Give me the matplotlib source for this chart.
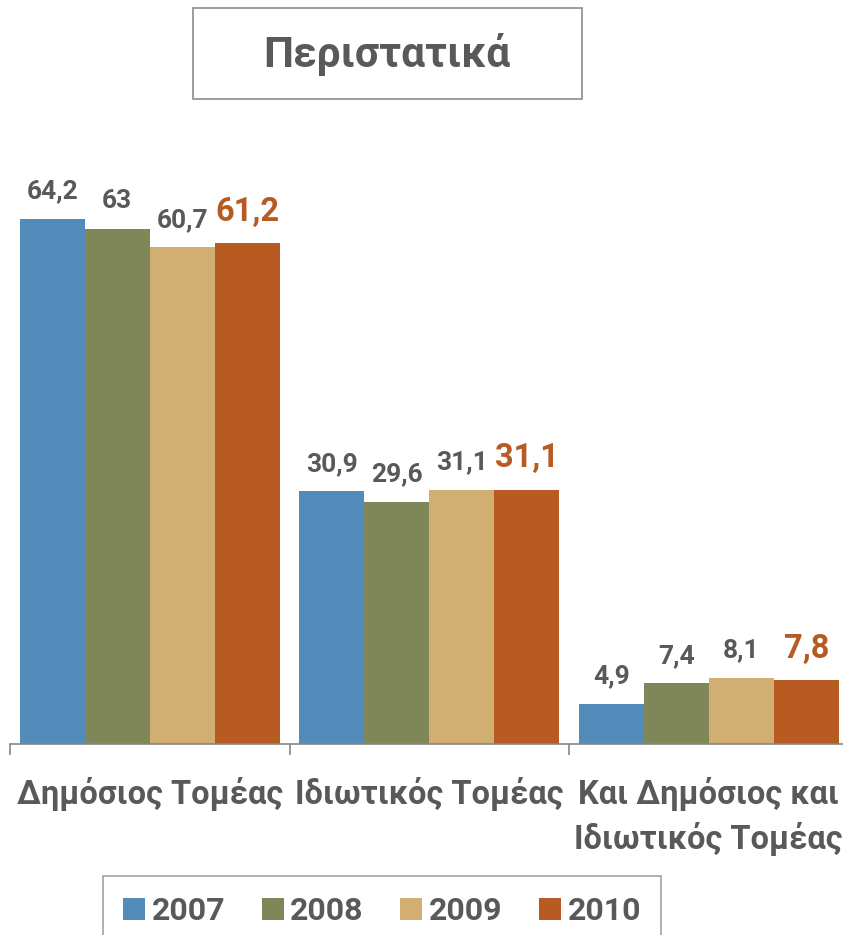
import matplotlib.pyplot as plt
from matplotlib.patches import Patch, Rectangle
import numpy as np

categories = ['Δημόσιος Τομέας', 'Ιδιωτικός Τομέας', 'Και Δημόσιος και\nΙδιωτικός Τομέας']
years = ['2007', '2008', '2009', '2010']
v2007 = [64.2, 30.9, 4.9]
v2008 = [63.0, 29.6, 7.4]
v2009 = [60.7, 31.1, 8.1]
v2010 = [61.2, 31.1, 7.8]
labels2007 = ['64,2', '30,9', '4,9']
labels2008 = ['63', '29,6', '7,4']
labels2009 = ['60,7', '31,1', '8,1']
labels2010 = ['61,2', '31,1', '7,8']

colors = ['#538BBA', '#7F8759', '#D1AF72', '#B85B22']
grey = '#595959'
plt.rcParams['font.family'] = ['Roboto', 'DejaVu Sans']

fig = plt.figure(figsize=(8.43, 9.35), dpi=100)
W, H = 843, 935
ax = fig.add_axes([10 / W, (H - 744) / H, 838.5 / W, 594 / H])

x = np.arange(len(categories))
bw = 0.2326
series = [v2007, v2008, v2009, v2010]
texts = [labels2007, labels2008, labels2009, labels2010]
for i, (vals, lab) in enumerate(zip(series, texts)):
    pos = x + (i - 1.5) * bw
    ax.bar(pos, vals, width=bw, color=colors[i], edgecolor='none', label=years[i])
    for px, v, t in zip(pos, vals, lab):
        last = i == 3
        ax.annotate(t, (px, v), xytext=(0, 11), textcoords='offset points',
                    ha='center', va='bottom', fontweight='bold',
                    fontsize=23.5 if last else 19,
                    color=colors[3] if last else grey)

ax.set_xlim(-0.5, 2.5)
ax.set_ylim(0, 72.6)
for side in ['top', 'left', 'right']:
    ax.spines[side].set_visible(False)
ax.spines['bottom'].set_color('#868686')
ax.spines['bottom'].set_linewidth(1.2)
ax.set_yticks([])
ax.set_xticks(x)
ax.set_xticklabels(categories, fontsize=23.5, fontweight='bold', color=grey,
                   linespacing=1.4)
ax.tick_params(axis='x', which='major', length=0, pad=24)
ax.set_xticks([-0.5, 0.5, 1.5, 2.5], minor=True)
ax.tick_params(axis='x', which='minor', length=8, color='#868686', width=1.2)

# title box
fig.patches.append(Rectangle((193 / W, 1 - 99 / H), 389 / W, 91 / H,
                             transform=fig.transFigure, fill=False,
                             edgecolor='#8C8C8C', linewidth=1.2))
fig.text(387 / W, 1 - 54 / H, 'Περιστατικά', ha='center', va='center',
         fontsize=30.5, fontweight='bold', color=grey)

handles = [Patch(facecolor=c, edgecolor='none') for c in colors]
leg = fig.legend(handles, years, loc='upper center', ncol=4,
                 bbox_to_anchor=(382 / W, 1 - 876 / H),
                 frameon=True, fancybox=False, edgecolor='#8C8C8C',
                 fontsize=23, handlelength=0.69, handleheight=0.69,
                 handletextpad=0.2, columnspacing=1.15, borderpad=0.62,
                 borderaxespad=0)
leg.get_frame().set_linewidth(1.2)
for t in leg.get_texts():
    t.set_fontweight('bold')
    t.set_color(grey)

fig.savefig('out.png', dpi=100)
